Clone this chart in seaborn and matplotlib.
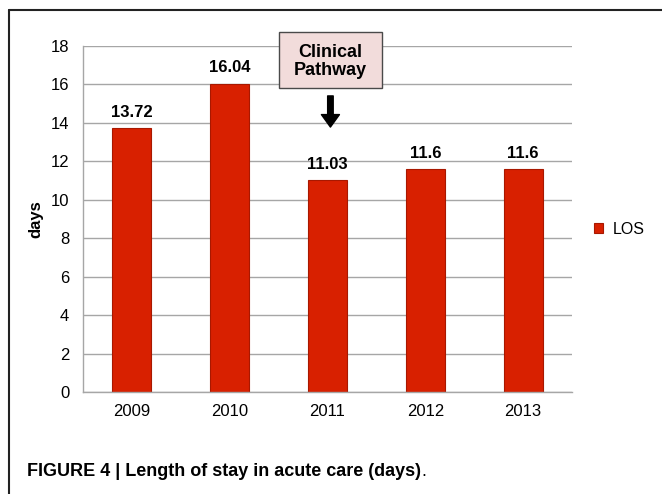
import pandas as pd
import seaborn as sns
import matplotlib.pyplot as plt
from matplotlib.lines import Line2D
from matplotlib.patches import Rectangle

# values
years = ["2009", "2010", "2011", "2012", "2013"]
los_days = [13.72, 16.04, 11.03, 11.6, 11.6]
series_name = "LOS"
y_ticks = [0, 2, 4, 6, 8, 10, 12, 14, 16, 18]


def main():
    df = pd.DataFrame({"year": years, "days": los_days, "series": series_name})

    sns.set_style("white")
    plt.rcParams["font.family"] = ["Liberation Sans", "DejaVu Sans"]
    # seaborn greys the text, the original is plain black
    plt.rcParams["text.color"] = "black"
    plt.rcParams["axes.labelcolor"] = "black"
    plt.rcParams["xtick.labelcolor"] = "black"
    plt.rcParams["ytick.labelcolor"] = "black"

    fig = plt.figure(figsize=(6.62, 4.94), dpi=100)
    ax = fig.add_axes([0.1254, 0.2065, 0.7386, 0.7005])

    sns.barplot(data=df, x="year", y="days", hue="series", palette=["#d82000"],
                width=0.4, edgecolor="#a81800", linewidth=0.8, saturation=1, ax=ax)

    # value labels on top of the bars
    for c in ax.containers:
        ax.bar_label(c, fmt="{:g}", padding=6, fontsize=12, fontweight="bold")

    ax.set_ylim(0, 18)
    ax.set_yticks(y_ticks)
    ax.yaxis.grid(True, color="#a6a6a6", linewidth=1)
    ax.set_axisbelow(True)
    for s in ["top", "right"]:
        ax.spines[s].set_visible(False)
    for s in ["left", "bottom"]:
        ax.spines[s].set_color("#a6a6a6")
        ax.spines[s].set_linewidth(1)
    ax.tick_params(axis="y", length=4, color="#a6a6a6", labelsize=12, pad=6)
    ax.tick_params(axis="x", length=0, labelsize=12, pad=9)
    ax.set_xlabel("")
    ax.set_ylabel("days", fontsize=12, fontweight="bold", labelpad=5)

    # legend on the right
    ax.legend(loc="center left", bbox_to_anchor=(0.898, 0.536),
              bbox_transform=fig.transFigure, frameon=False, fontsize=11.5,
              handlelength=0.55, handleheight=0.55, handletextpad=0.6,
              borderpad=0, borderaxespad=0)

    # Clinical Pathway note with arrow
    ax.add_patch(Rectangle((1.504, 15.82), 1.053, 2.91, facecolor="#f2dcdb",
                           edgecolor="#4a4a4a", linewidth=1, clip_on=False, zorder=5))
    ax.text(2.03, 17.2, "Clinical\nPathway", ha="center", va="center",
            fontsize=13, fontweight="bold", linespacing=1.1, clip_on=False, zorder=6)
    ax.annotate("", xy=(2.03, 13.78), xytext=(2.03, 15.4),
                arrowprops=dict(facecolor="black", edgecolor="black",
                                width=4, headwidth=13, headlength=9))

    # frame lines at top and left of the figure
    fig.add_artist(Line2D([9 / 662, 1], [1 - 10 / 494, 1 - 10 / 494],
                          color="#222222", linewidth=1.5))
    fig.add_artist(Line2D([9 / 662, 9 / 662], [0, 1 - 10 / 494],
                          color="#222222", linewidth=1.5))

    # caption
    cap = fig.text(27 / 662, 1 - 471 / 494, "FIGURE 4 | Length of stay in acute care (days)",
                   fontsize=13, fontweight="bold", va="center", ha="left")
    fig.canvas.draw()
    bb = cap.get_window_extent()
    fig.text(bb.x1 / 662, 1 - 471 / 494, ".", fontsize=13, va="center", ha="left")

    plt.savefig("out.png", dpi=100)


main()
